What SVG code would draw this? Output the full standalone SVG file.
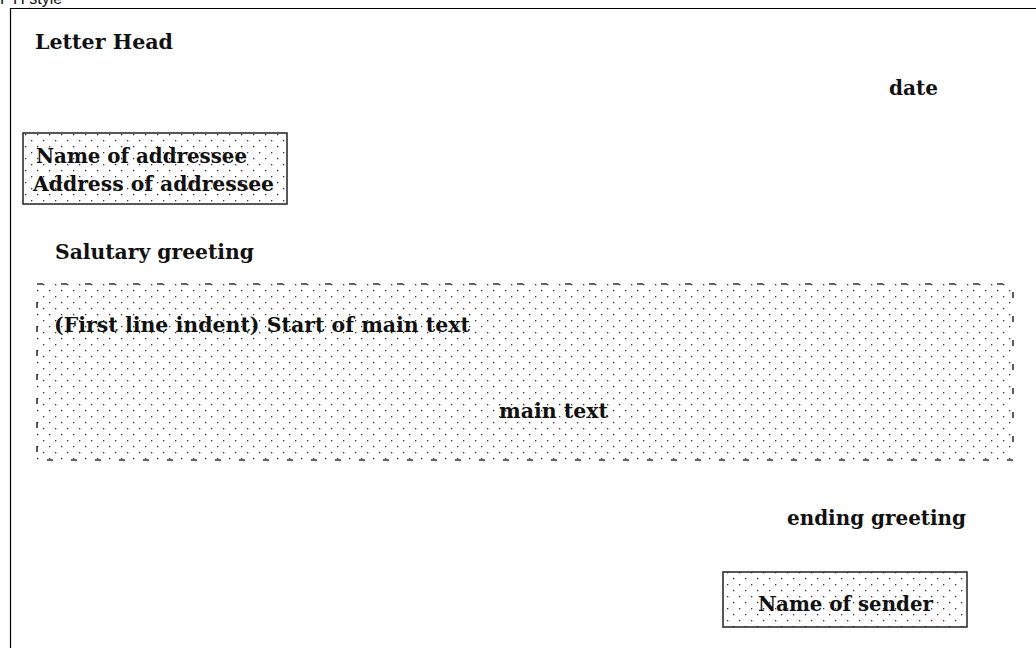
<svg xmlns="http://www.w3.org/2000/svg" width="1036" height="648" viewBox="0 0 1036 648">
  <defs>
    <!-- staggered dot screen used for shaded areas -->
    <pattern id="dots" x="0" y="0" width="12" height="12" patternUnits="userSpaceOnUse">
      <rect x="1" y="2" width="1.3" height="1.3" fill="#333"/>
      <rect x="7" y="8" width="1.3" height="1.3" fill="#333"/>
    </pattern>
    <style>
      .lbl { font-family: "DejaVu Serif", "Liberation Serif", serif; font-weight: bold; font-size: 20px; fill: #111; }
      .cap { font-family: "Liberation Sans", Arial, sans-serif; font-size: 16px; fill: #111; }
      .solid { fill: url(#dots); stroke: #222; stroke-width: 1.5; }
      .dashed { fill: url(#dots); stroke: #333; stroke-width: 1.6; stroke-dasharray: 6 18; }
      .frame { fill: none; stroke: #000; stroke-width: 1.2; }
    </style>
  </defs>

  <rect width="1036" height="648" fill="#fff"/>

  <text class="cap" x="0" y="4">FYI style</text>

  <!-- sheet edges -->
  <path class="frame" d="M10.5 648 V8.5 H1036"/>

  <g id="letter-head">
    <text class="lbl" x="35" y="49" textLength="138" lengthAdjust="spacingAndGlyphs">Letter Head</text>
  </g>

  <g id="date">
    <text class="lbl" x="889" y="95" textLength="49" lengthAdjust="spacingAndGlyphs">date</text>
  </g>

  <g id="addressee">
    <rect class="solid" x="23" y="133" width="264" height="71"/>
    <text class="lbl" x="36" y="163" textLength="211" lengthAdjust="spacingAndGlyphs">Name of addressee</text>
    <text class="lbl" x="33" y="191" textLength="241" lengthAdjust="spacingAndGlyphs">Address of addressee</text>
  </g>

  <g id="salutation">
    <text class="lbl" x="55" y="259" textLength="199" lengthAdjust="spacingAndGlyphs">Salutary greeting</text>
  </g>

  <g id="main-text">
    <rect class="dashed" x="37" y="284" width="976" height="176"/>
    <text class="lbl" x="54" y="332" textLength="416" lengthAdjust="spacingAndGlyphs">(First line indent) Start of main text</text>
    <text class="lbl" x="499" y="418" textLength="109" lengthAdjust="spacingAndGlyphs">main text</text>
  </g>

  <g id="closing">
    <text class="lbl" x="787" y="525" textLength="179" lengthAdjust="spacingAndGlyphs">ending greeting</text>
  </g>

  <g id="sender">
    <rect class="solid" x="723" y="572" width="244" height="55"/>
    <text class="lbl" x="758" y="611" textLength="175" lengthAdjust="spacingAndGlyphs">Name of sender</text>
  </g>
</svg>
